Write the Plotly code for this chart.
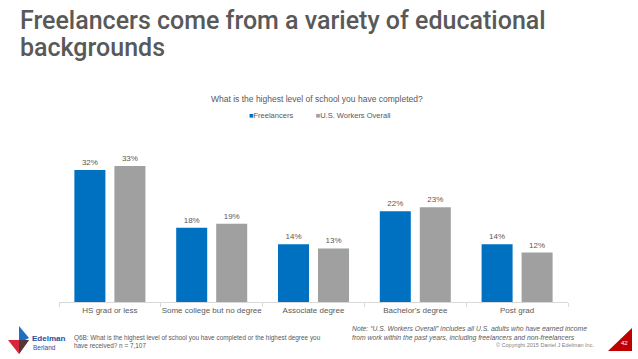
import plotly.graph_objects as go

categories = ["HS grad or less", "Some college but no degree", "Associate degree", "Bachelor's degree", "Post grad"]
freelancers = [32, 18, 14, 22, 14]
us_workers = [33, 19, 13, 23, 12]
series_names = ["Freelancers", "U.S. Workers Overall"]
colors = ["#0070c0", "#a0a0a0"]

W, H = 638, 359
L, R, T, B = 59, 568, 137, 302  # plot area in page pixels


def px(x):
    return (x - L) / (R - L)


def py(y):
    return (B - y) / (B - T)


TEXT = "#595959"
FONT = "Liberation Sans"

fig = go.Figure()
for name, vals, col in zip(series_names, [freelancers, us_workers], colors):
    fig.add_trace(go.Bar(
        x=categories, y=vals, name=name,
        marker=dict(color=col, line=dict(width=0)),
        text=[f"{v}%" for v in vals], textposition="outside",
        textfont=dict(size=8, color=TEXT, family=FONT), cliponaxis=False,
        showlegend=False,
    ))

legend_text = (f"<span style='color:{colors[0]}'>\u25a0</span>{series_names[0]}"
               f"\u2003\u2003\u2003<span style='color:{colors[1]}'>\u25a0</span>{series_names[1]}")

annotations = [
    dict(text="Freelancers come from a variety of educational",
         x=px(19), y=py(21), xanchor="left", yanchor="middle", borderpad=0,
         font=dict(family="Roboto", size=25, color=TEXT, weight=500)),
    dict(text="backgrounds",
         x=px(19), y=py(47), xanchor="left", yanchor="middle", borderpad=0,
         font=dict(family="Roboto", size=25, color=TEXT, weight=500)),
    dict(text="What is the highest level of school you have completed?",
         x=px(317), y=py(99), xanchor="center", yanchor="middle",
         font=dict(family=FONT, size=8.5, color=TEXT)),
    dict(text=legend_text,
         x=px(320), y=py(115), xanchor="center", yanchor="middle",
         font=dict(family=FONT, size=7.5, color=TEXT)),
    dict(text="Q6B: What is the highest level of school you have completed or the highest degree you<br>have received? n = 7,107",
         x=px(72), y=py(341), xanchor="left", yanchor="middle", align="left",
         font=dict(family=FONT, size=6.4, color=TEXT)),
    dict(text="<i>Note: \u201cU.S. Workers Overall\u201d includes all U.S. adults who have earned income<br>from work within the past years, including freelancers and non-freelancers</i>",
         x=px(350), y=py(333), xanchor="left", yanchor="middle", align="left",
         font=dict(family=FONT, size=6.8, color=TEXT)),
    dict(text="\u00a9 Copyright 2015 Daniel J Edelman Inc.",
         x=px(596), y=py(345), xanchor="right", yanchor="middle",
         font=dict(family=FONT, size=5.5, color="#7f7f7f")),
    dict(text="<b>Edelman</b>",
         x=px(30), y=py(338), xanchor="left", yanchor="middle",
         font=dict(family=FONT, size=8, color="#1f4e9c")),
    dict(text="Berland",
         x=px(31), y=py(347), xanchor="left", yanchor="middle",
         font=dict(family=FONT, size=6.5, color="#1f4e9c")),
    dict(text="42",
         x=px(624), y=py(343), xanchor="center", yanchor="middle",
         font=dict(family=FONT, size=6, color="white")),
]
for a in annotations:
    a["xref"] = "paper"
    a["yref"] = "paper"
    a["showarrow"] = False

shapes = [
    # logo triangles
    dict(type="path", path=f"M {px(19)},{py(326)} L {px(29)},{py(338)} L {px(19)},{py(343)} Z",
         fillcolor="#1f6fc5", line=dict(width=0)),
    dict(type="path", path=f"M {px(8)},{py(340)} L {px(29)},{py(340)} L {px(19)},{py(354)} Z",
         fillcolor="#d9263a", line=dict(width=0)),
    dict(type="path", path=f"M {px(19)},{py(340)} L {px(29)},{py(340)} L {px(19)},{py(354)} Z",
         fillcolor="#3a3a3a", line=dict(width=0), opacity=0.85),
    # page number triangle
    dict(type="path", path=f"M {px(632)},{py(328)} L {px(632)},{py(351)} L {px(608)},{py(351)} Z",
         fillcolor="#c00000", line=dict(width=0)),
]
for s in shapes:
    s["xref"] = "paper"
    s["yref"] = "paper"

fig.update_layout(
    width=W, height=H,
    margin=dict(l=L, r=W - R, t=T, b=H - B, pad=0, autoexpand=False),
    paper_bgcolor="white", plot_bgcolor="white",
    barmode="group", bargap=0.214, bargroupgap=0.225,
    showlegend=False,
    annotations=annotations,
    shapes=shapes,
    font=dict(family=FONT, color=TEXT),
    xaxis=dict(showline=True, linecolor="#d9d9d9", linewidth=1,
               ticks="outside", tickson="boundaries", ticklen=4, tickcolor="#d9d9d9",
               tickangle=0,
               tickfont=dict(size=8, color=TEXT, family=FONT),
               showgrid=False, fixedrange=True),
    yaxis=dict(range=[0, 40], visible=False, showgrid=False, fixedrange=True),
)

fig.write_html("out.html", config={"displayModeBar": False},
               post_script="document.body.style.margin='0';")
